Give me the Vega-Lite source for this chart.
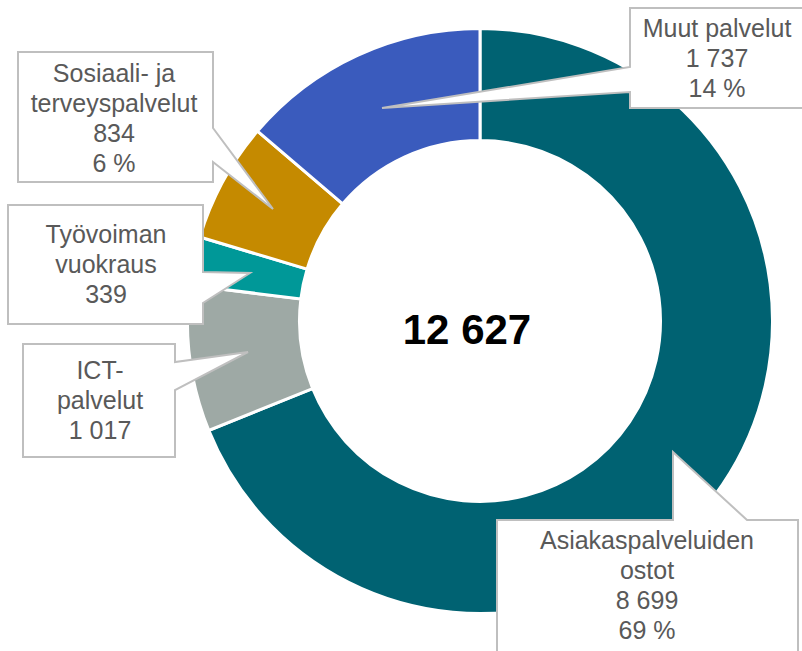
{
  "$schema": "https://vega.github.io/schema/vega-lite/v6.json",
  "width": 644,
  "height": 642,
  "autosize": {"type": "none"},
  "padding": {"left": 158, "top": 0, "right": 0, "bottom": 9},
  "background": "white",
  "config": {"view": {"stroke": null}, "font": "Liberation Sans"},
  "data": {
    "values": [
      {"category": "Asiakaspalveluiden ostot", "rank": 1, "value": 8699, "label": "Asiakaspalveluiden\nostot\n8 699\n69 %"},
      {"category": "ICT-palvelut", "rank": 2, "value": 1017, "label": "ICT-\npalvelut\n1 017"},
      {"category": "Työvoiman vuokraus", "rank": 3, "value": 339, "label": "Työvoiman\nvuokraus\n339"},
      {"category": "Sosiaali- ja terveyspalvelut", "rank": 4, "value": 834, "label": "Sosiaali- ja\nterveyspalvelut\n834\n6 %"},
      {"category": "Muut palvelut", "rank": 5, "value": 1737, "label": "Muut palvelut\n1 737\n14 %"}
    ]
  },
  "layer": [
    {
      "mark": {"type": "arc", "outerRadius": 292.5, "innerRadius": 180.5, "stroke": "white", "strokeWidth": 3},
      "encoding": {
        "theta": {"field": "value", "type": "quantitative", "stack": true},
        "order": {"field": "rank", "type": "quantitative"},
        "color": {
          "field": "category",
          "type": "nominal",
          "scale": {
            "domain": ["Asiakaspalveluiden ostot", "ICT-palvelut", "Työvoiman vuokraus", "Sosiaali- ja terveyspalvelut", "Muut palvelut"],
            "range": ["#006272", "#9EA9A5", "#009898", "#C58A00", "#3A5BBD"]
          },
          "legend": null
        }
      }
    },
    {
      "data": {"values": [{"total": "12 627"}]},
      "mark": {"type": "text", "fontSize": 42, "fontWeight": "bold", "color": "black", "align": "center", "baseline": "middle", "dx": -13, "dy": 10},
      "encoding": {"text": {"field": "total", "type": "nominal"}}
    },
    {
      "transform": [{"filter": "datum.category === 'Muut palvelut'"}],
      "layer": [
        {
          "mark": {"type": "point", "shape": "M150,-313L330,-313L330,-213L150,-213L150,-229L-98,-213L150,-254Z", "size": 4, "filled": true, "fill": "white", "stroke": "#BFBFBF", "strokeWidth": 2, "opacity": 1},
          "encoding": {}
        },
        {
          "mark": {"type": "text", "fontSize": 25, "color": "#595959", "align": "center", "baseline": "alphabetic", "lineBreak": "\n", "lineHeight": 30, "dx": 237, "dy": -284},
          "encoding": {"text": {"field": "label", "type": "nominal"}}
        }
      ]
    },
    {
      "transform": [{"filter": "datum.category === 'Sosiaali- ja terveyspalvelut'"}],
      "layer": [
        {
          "mark": {"type": "point", "shape": "M-462,-269L-267,-269L-267,-193L-207,-112L-267,-159L-267,-139L-462,-139Z", "size": 4, "filled": true, "fill": "white", "stroke": "#BFBFBF", "strokeWidth": 2, "opacity": 1},
          "encoding": {}
        },
        {
          "mark": {"type": "text", "fontSize": 25, "color": "#595959", "align": "center", "baseline": "alphabetic", "lineBreak": "\n", "lineHeight": 30, "dx": -366, "dy": -239},
          "encoding": {"text": {"field": "label", "type": "nominal"}}
        }
      ]
    },
    {
      "transform": [{"filter": "datum.category === 'Työvoiman vuokraus'"}],
      "layer": [
        {
          "mark": {"type": "point", "shape": "M-472,-116L-277,-116L-277,-49L-230,-48L-277,-18L-277,3L-472,3Z", "size": 4, "filled": true, "fill": "white", "stroke": "#BFBFBF", "strokeWidth": 2, "opacity": 1},
          "encoding": {}
        },
        {
          "mark": {"type": "text", "fontSize": 25, "color": "#595959", "align": "center", "baseline": "alphabetic", "lineBreak": "\n", "lineHeight": 30, "dx": -374, "dy": -78},
          "encoding": {"text": {"field": "label", "type": "nominal"}}
        }
      ]
    },
    {
      "transform": [{"filter": "datum.category === 'ICT-palvelut'"}],
      "layer": [
        {
          "mark": {"type": "point", "shape": "M-457,23L-305,23L-305,41L-232,31L-305,69L-305,136L-457,136Z", "size": 4, "filled": true, "fill": "white", "stroke": "#BFBFBF", "strokeWidth": 2, "opacity": 1},
          "encoding": {}
        },
        {
          "mark": {"type": "text", "fontSize": 25, "color": "#595959", "align": "center", "baseline": "alphabetic", "lineBreak": "\n", "lineHeight": 30, "dx": -380, "dy": 58},
          "encoding": {"text": {"field": "label", "type": "nominal"}}
        }
      ]
    },
    {
      "transform": [{"filter": "datum.category === 'Asiakaspalveluiden ostot'"}],
      "layer": [
        {
          "mark": {"type": "point", "shape": "M17,199L193,199L193,131L267,199L318,199L318,339L17,339Z", "size": 4, "filled": true, "fill": "white", "stroke": "#BFBFBF", "strokeWidth": 2, "opacity": 1},
          "encoding": {}
        },
        {
          "mark": {"type": "text", "fontSize": 25, "color": "#595959", "align": "center", "baseline": "alphabetic", "lineBreak": "\n", "lineHeight": 30, "dx": 167, "dy": 228},
          "encoding": {"text": {"field": "label", "type": "nominal"}}
        }
      ]
    }
  ]
}
